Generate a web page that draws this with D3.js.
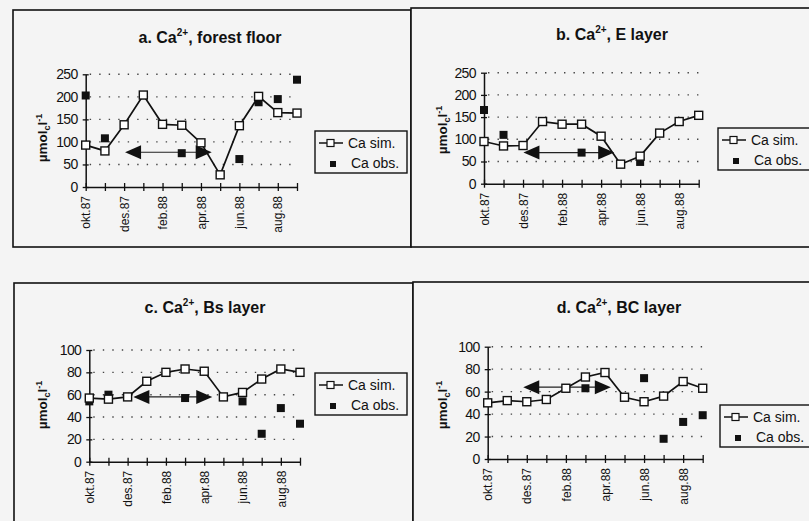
<!DOCTYPE html>
<html>
<head>
<meta charset="utf-8">
<script src="https://cdn.jsdelivr.net/npm/d3@7/dist/d3.min.js"></script>
<style>
  html, body { margin: 0; padding: 0; background: #f4f4f4; }
  svg { display: block; font-family: "Liberation Sans", Arial, sans-serif; }
</style>
</head>
<body>
<svg id="chart" width="809" height="521"></svg>
<script>
// Months of the sampling period (Oct 1987 - Sep 1988)
const months = ["okt.87","nov.87","des.87","jan.88","feb.88","mar.88",
                "apr.88","mai.88","jun.88","jul.88","aug.88","sep.88"];

// Simulated Ca2+ concentrations (µmol_c/l) per layer
const simForestFloor = [93, 80, 138, 204, 139, 137, 98, 27, 136, 201, 165, 164];
const simELayer      = [95, 85, 86, 140, 134, 134, 107, 44, 62, 114, 140, 154];
const simBsLayer     = [57, 56, 58, 72, 80, 83, 81, 58, 62, 74, 83, 80];
const simBCLayer     = [50, 52, 51, 53, 63, 73, 77, 55, 51, 56, 69, 63];

// Observed Ca2+ concentrations (null = no sample)
const obsForestFloor = [203, 108, null, null, null, 75, null, null, 62, 188, 195, 238];
const obsELayer      = [166, 110, null, null, null, 70, null, null, 49, 114, 140, 154];
const obsBsLayer     = [54, 60, null, null, null, 57, null, null, 54, 25, 48, 34];
const obsBCLayer     = [50, 52, null, null, null, 63, null, null, 72, 18, 33, 39];

// Y-axis tick values
const ticksHigh = [0, 50, 100, 150, 200, 250];
const ticksLow  = [0, 20, 40, 60, 80, 100];

// Double arrow marking a period: [from month index, to month index, level]
const arrowForestFloor = [2.05, 6.56, 77];
const arrowELayer      = [2.02, 6.67, 70];
const arrowBsLayer     = [2.3, 6.42, 58];
const arrowBCLayer     = [1.82, 6.3, 64];

const legendLabels = ["Ca sim.", "Ca obs."];

const panels = [
  { letter: "a.", layer: "forest floor", sim: simForestFloor, obs: obsForestFloor, ticks: ticksHigh, arrow: arrowForestFloor,
    frame: [13, 10, 411, 247], x: [85.7, 297], y: [187, 74.3], titleX: 210, titleY: 43, ylabX: 42, ylabY: 138, legend: [315, 131] },
  { letter: "b.", layer: "E layer", sim: simELayer, obs: obsELayer, ticks: ticksHigh, arrow: arrowELayer,
    frame: [411, 8, 812, 247], x: [484, 698.7], y: [183.7, 72.7], titleX: 612, titleY: 40, ylabX: 442, ylabY: 130, legend: [718, 128] },
  { letter: "c.", layer: "Bs layer", sim: simBsLayer, obs: obsBsLayer, ticks: ticksLow, arrow: arrowBsLayer,
    frame: [14, 283, 413, 525], x: [89.3, 300], y: [461.7, 350], titleX: 205, titleY: 313, ylabX: 42, ylabY: 405, legend: [315, 373] },
  { letter: "d.", layer: "BC layer", sim: simBCLayer, obs: obsBCLayer, ticks: ticksLow, arrow: arrowBCLayer,
    frame: [413, 282, 812, 525], x: [487.7, 702.7], y: [459, 346.7], titleX: 619, titleY: 313, ylabX: 442, ylabY: 405, legend: [720, 405] }
];

const ink = "#111";
const svg = d3.select("#chart");
svg.append("rect").attr("width", 809).attr("height", 521).attr("fill", "#f4f4f4");

panels.forEach(p => {
  const g = svg.append("g");
  const [fx0, fy0, fx1, fy1] = p.frame;

  // panel frame
  g.append("rect")
    .attr("x", fx0).attr("y", fy0)
    .attr("width", fx1 - fx0).attr("height", fy1 - fy0)
    .attr("fill", "#f4f4f4").attr("stroke", ink).attr("stroke-width", 1.6);

  const x = d3.scaleLinear().domain([0, months.length - 1]).range(p.x);
  const yMax = p.ticks[p.ticks.length - 1];
  const y = d3.scaleLinear().domain([0, yMax]).range(p.y);

  // title with superscript charge
  const title = g.append("text")
    .attr("x", p.titleX).attr("y", p.titleY)
    .attr("text-anchor", "middle")
    .attr("font-size", 16).attr("font-weight", "bold").attr("fill", ink);
  title.append("tspan").text(p.letter + " Ca");
  title.append("tspan").attr("dy", -7).attr("font-size", 10).text("2+");
  title.append("tspan").attr("dy", 7).text(", " + p.layer);

  // dotted horizontal gridlines
  g.append("g").selectAll("line")
    .data(p.ticks.filter(t => t > 0))
    .join("line")
    .attr("x1", x(0) + 4).attr("x2", x(months.length - 1))
    .attr("y1", d => y(d)).attr("y2", d => y(d))
    .attr("stroke", "#444").attr("stroke-width", 1.4)
    .attr("stroke-dasharray", "1.4,8.1");

  // y axis
  const yAxis = d3.axisLeft(y).tickValues(p.ticks).tickSize(0).tickPadding(8);
  const ya = g.append("g").attr("transform", `translate(${x(0)},0)`).call(yAxis);
  ya.select(".domain").attr("stroke", ink).attr("stroke-width", 1.5);
  ya.selectAll(".tick text").attr("font-size", 14).attr("fill", ink)
    .attr("letter-spacing", -0.6);
  ya.selectAll(".tick").append("line")
    .attr("x1", -3).attr("x2", 3).attr("stroke", ink).attr("stroke-width", 1.3);

  // x axis with crossing ticks and every other month labelled
  const xAxis = d3.axisBottom(x).tickValues(d3.range(months.length))
    .tickSize(0).tickFormat(i => i % 2 === 0 ? months[i] : "");
  const xa = g.append("g").attr("transform", `translate(0,${y(0)})`).call(xAxis);
  xa.select(".domain").attr("stroke", ink).attr("stroke-width", 1.5);
  xa.selectAll(".tick").append("line")
    .attr("y1", -4).attr("y2", 4).attr("stroke", ink).attr("stroke-width", 1.3);
  xa.selectAll(".tick text")
    .attr("font-size", 12).attr("fill", ink)
    .attr("text-anchor", "end")
    .attr("transform", "translate(0,9) rotate(-90)")
    .attr("x", 0).attr("y", 0).attr("dy", "0.35em");

  // y axis label: µmol_c l^-1
  const yl = g.append("text")
    .attr("transform", `translate(${p.ylabX},${p.ylabY}) rotate(-90)`)
    .attr("text-anchor", "middle").attr("dy", "0.35em")
    .attr("font-size", 13.5).attr("font-weight", "bold").attr("fill", ink);
  yl.append("tspan").text("µmol");
  yl.append("tspan").attr("dy", 3).attr("font-size", 9).text("c");
  yl.append("tspan").attr("dy", -3).text("l");
  yl.append("tspan").attr("dy", -5).attr("font-size", 9).text("-1");

  // double arrow marking the period
  const [a0, a1, av] = p.arrow;
  const ax0 = x(a0), ax1 = x(a1), ay = y(av);
  g.append("line")
    .attr("x1", ax0 + 12).attr("x2", ax1 - 12)
    .attr("y1", ay).attr("y2", ay)
    .attr("stroke", "#222").attr("stroke-width", 1.1);
  g.append("path")
    .attr("d", `M${ax0},${ay} L${ax0 + 16},${ay - 7} L${ax0 + 16},${ay + 7} Z`)
    .attr("fill", ink);
  g.append("path")
    .attr("d", `M${ax1},${ay} L${ax1 - 16},${ay - 7} L${ax1 - 16},${ay + 7} Z`)
    .attr("fill", ink);

  // observed values: filled squares
  const obsPts = p.obs.map((v, i) => ({ i, v })).filter(d => d.v !== null);
  g.append("g").selectAll("rect")
    .data(obsPts).join("rect")
    .attr("x", d => x(d.i) - 4).attr("y", d => y(d.v) - 4)
    .attr("width", 8).attr("height", 8).attr("fill", ink);

  // simulated values: line with open squares
  const line = d3.line().x((d, i) => x(i)).y(d => y(d));
  g.append("path").datum(p.sim)
    .attr("d", line).attr("fill", "none")
    .attr("stroke", ink).attr("stroke-width", 1.7);
  g.append("g").selectAll("rect")
    .data(p.sim).join("rect")
    .attr("x", (d, i) => x(i) - 4).attr("y", d => y(d) - 4)
    .attr("width", 8).attr("height", 8)
    .attr("fill", "#fff").attr("stroke", ink).attr("stroke-width", 1.4);

  // legend
  const [lx, ly] = p.legend;
  const lg = g.append("g").attr("transform", `translate(${lx},${ly})`);
  lg.append("rect").attr("width", 92).attr("height", 42)
    .attr("fill", "#f4f4f4").attr("stroke", ink).attr("stroke-width", 1.4);
  lg.append("line").attr("x1", 4).attr("x2", 28).attr("y1", 12).attr("y2", 12)
    .attr("stroke", ink).attr("stroke-width", 1.5);
  lg.append("rect").attr("x", 12).attr("y", 8.5).attr("width", 7).attr("height", 7)
    .attr("fill", "#fff").attr("stroke", ink).attr("stroke-width", 1.2);
  lg.append("rect").attr("x", 15).attr("y", 30).attr("width", 6).attr("height", 6)
    .attr("fill", ink);
  lg.append("text").attr("x", 33).attr("y", 17).attr("font-size", 14)
    .attr("fill", ink).text(legendLabels[0]);
  lg.append("text").attr("x", 36).attr("y", 37).attr("font-size", 14)
    .attr("fill", ink).text(legendLabels[1]);
});
</script>
</body>
</html>
